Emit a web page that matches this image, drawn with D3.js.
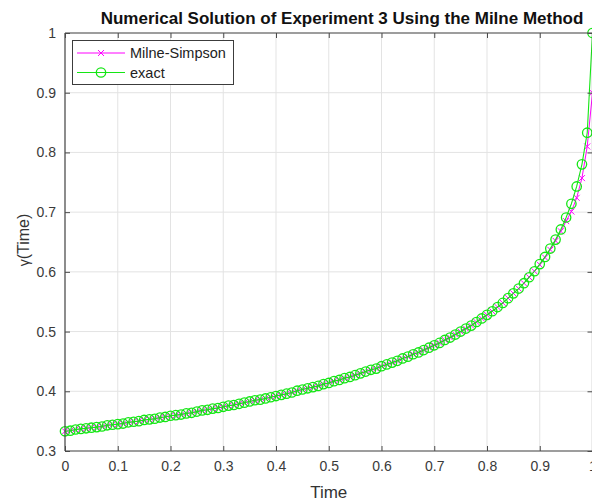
<!DOCTYPE html>
<html>
<head>
<meta charset="utf-8">
<script src="https://cdn.jsdelivr.net/npm/d3@7"></script>
<style>
  html, body { margin: 0; padding: 0; background: #fff; }
  svg { display: block; }
  text { font-family: "Liberation Sans", Arial, Helvetica, sans-serif; }
</style>
</head>
<body>
<svg id="chart" width="592" height="504"></svg>
<script>
// Time grid (step h = 0.01)
const time = [
  0.00, 0.01, 0.02, 0.03, 0.04, 0.05, 0.06, 0.07, 0.08, 0.09,
  0.10, 0.11, 0.12, 0.13, 0.14, 0.15, 0.16, 0.17, 0.18, 0.19,
  0.20, 0.21, 0.22, 0.23, 0.24, 0.25, 0.26, 0.27, 0.28, 0.29,
  0.30, 0.31, 0.32, 0.33, 0.34, 0.35, 0.36, 0.37, 0.38, 0.39,
  0.40, 0.41, 0.42, 0.43, 0.44, 0.45, 0.46, 0.47, 0.48, 0.49,
  0.50, 0.51, 0.52, 0.53, 0.54, 0.55, 0.56, 0.57, 0.58, 0.59,
  0.60, 0.61, 0.62, 0.63, 0.64, 0.65, 0.66, 0.67, 0.68, 0.69,
  0.70, 0.71, 0.72, 0.73, 0.74, 0.75, 0.76, 0.77, 0.78, 0.79,
  0.80, 0.81, 0.82, 0.83, 0.84, 0.85, 0.86, 0.87, 0.88, 0.89,
  0.90, 0.91, 0.92, 0.93, 0.94, 0.95, 0.96, 0.97, 0.98, 0.99,
  1.00
];

// Exact solution values
const exact = [
  0.333, 0.334, 0.336, 0.337, 0.338, 0.339, 0.340, 0.341, 0.343, 0.344,
  0.345, 0.346, 0.348, 0.349, 0.350, 0.352, 0.353, 0.354, 0.356, 0.357,
  0.359, 0.360, 0.361, 0.363, 0.364, 0.366, 0.368, 0.369, 0.371, 0.372,
  0.374, 0.376, 0.377, 0.379, 0.381, 0.383, 0.385, 0.386, 0.388, 0.390,
  0.392, 0.394, 0.396, 0.398, 0.401, 0.403, 0.405, 0.407, 0.409, 0.412,
  0.414, 0.417, 0.419, 0.422, 0.424, 0.427, 0.430, 0.433, 0.436, 0.438,
  0.442, 0.445, 0.448, 0.451, 0.455, 0.458, 0.462, 0.465, 0.469, 0.473,
  0.477, 0.481, 0.486, 0.490, 0.495, 0.500, 0.505, 0.510, 0.516, 0.522,
  0.528, 0.534, 0.541, 0.548, 0.556, 0.564, 0.572, 0.581, 0.591, 0.601,
  0.613, 0.625, 0.639, 0.654, 0.671, 0.691, 0.714, 0.743, 0.780, 0.833,
  1.000
];

// Milne-Simpson predictor-corrector values
const milne = [
  0.333, 0.334, 0.336, 0.337, 0.338, 0.339, 0.340, 0.341, 0.343, 0.344,
  0.345, 0.346, 0.348, 0.349, 0.350, 0.352, 0.353, 0.354, 0.356, 0.357,
  0.359, 0.360, 0.361, 0.363, 0.364, 0.366, 0.368, 0.369, 0.371, 0.372,
  0.374, 0.376, 0.377, 0.379, 0.381, 0.383, 0.385, 0.386, 0.388, 0.390,
  0.392, 0.394, 0.396, 0.398, 0.401, 0.403, 0.405, 0.407, 0.409, 0.412,
  0.414, 0.417, 0.419, 0.422, 0.424, 0.427, 0.430, 0.433, 0.436, 0.438,
  0.442, 0.445, 0.448, 0.451, 0.455, 0.458, 0.462, 0.465, 0.469, 0.473,
  0.477, 0.481, 0.486, 0.490, 0.495, 0.500, 0.505, 0.510, 0.516, 0.522,
  0.528, 0.534, 0.541, 0.548, 0.556, 0.564, 0.572, 0.581, 0.591, 0.601,
  0.612, 0.624, 0.637, 0.652, 0.668, 0.685, 0.701, 0.724, 0.757, 0.810,
  0.900
];

const xTicks = [0, 0.1, 0.2, 0.3, 0.4, 0.5, 0.6, 0.7, 0.8, 0.9, 1];
const xTickLabels = ["0", "0.1", "0.2", "0.3", "0.4", "0.5", "0.6", "0.7", "0.8", "0.9", "1"];
const yTicks = [0.3, 0.4, 0.5, 0.6, 0.7, 0.8, 0.9, 1];
const yTickLabels = ["0.3", "0.4", "0.5", "0.6", "0.7", "0.8", "0.9", "1"];

const seriesNames = ["Milne-Simpson", "exact"];
const titleText = "Numerical Solution of Experiment 3 Using the Milne Method";

const svg = d3.select("#chart");
const pLeft = 65, pRight = 592.5, pTop = 33, pBottom = 451;

const x = d3.scaleLinear().domain([0, 1]).range([pLeft, pRight]);
const y = d3.scaleLinear().domain([0.3, 1]).range([pBottom, pTop]);

const axisColor = "#4a4a4a";
const gridColor = "#e3e3e3";
const magenta = "#ff00ff";
const green = "#14e614";

// Grid
const grid = svg.append("g");
grid.selectAll("line.gx").data(xTicks).join("line")
  .attr("x1", d => x(d)).attr("x2", d => x(d))
  .attr("y1", pTop).attr("y2", pBottom)
  .attr("stroke", gridColor).attr("stroke-width", 1);
grid.selectAll("line.gy").data(yTicks).join("line")
  .attr("x1", pLeft).attr("x2", pRight)
  .attr("y1", d => y(d)).attr("y2", d => y(d))
  .attr("stroke", gridColor).attr("stroke-width", 1);

// Clip region for the data
svg.append("clipPath").attr("id", "plotclip")
  .append("rect").attr("x", pLeft - 6).attr("y", pTop - 6)
  .attr("width", pRight - pLeft + 12).attr("height", pBottom - pTop + 12);

const plot = svg.append("g").attr("clip-path", "url(#plotclip)");
const line = d3.line().x(d => x(d[0])).y(d => y(d[1]));

const milnePts = time.map((t, i) => [t, milne[i]]);
const exactPts = time.map((t, i) => [t, exact[i]]);

// Milne-Simpson: magenta line with x markers
plot.append("path").datum(milnePts)
  .attr("d", line).attr("fill", "none")
  .attr("stroke", magenta).attr("stroke-width", 1);
const xm = 3;
plot.append("g").selectAll("path").data(milnePts).join("path")
  .attr("d", d => {
    const cx = x(d[0]), cy = y(d[1]);
    return `M${cx - xm},${cy - xm}L${cx + xm},${cy + xm}M${cx - xm},${cy + xm}L${cx + xm},${cy - xm}`;
  })
  .attr("stroke", magenta).attr("stroke-width", 1).attr("fill", "none");

// Exact: green line with open circles
plot.append("path").datum(exactPts)
  .attr("d", line).attr("fill", "none")
  .attr("stroke", green).attr("stroke-width", 1.1);
plot.append("g").selectAll("circle").data(exactPts).join("circle")
  .attr("cx", d => x(d[0])).attr("cy", d => y(d[1]))
  .attr("r", 4.7)
  .attr("fill", "none").attr("stroke", green).attr("stroke-width", 1.3);

// Axes (box with inward ticks)
const xAxisB = d3.axisBottom(x).tickValues(xTicks).tickSize(-5)
  .tickFormat((d, i) => xTickLabels[i]).tickPadding(10);
const xAxisT = d3.axisTop(x).tickValues(xTicks).tickSize(-5).tickFormat("");
const yAxisL = d3.axisLeft(y).tickValues(yTicks).tickSize(-5)
  .tickFormat((d, i) => yTickLabels[i]).tickPadding(9);
const yAxisR = d3.axisRight(y).tickValues(yTicks).tickSize(-5).tickFormat("");

function styleAxis(g) {
  g.select(".domain").attr("stroke", axisColor).attr("stroke-width", 1.2);
  g.selectAll(".tick line").attr("stroke", axisColor);
  g.selectAll(".tick text").attr("fill", "#3a3a3a")
    .style("font-size", "14px")
    .style("font-family", '"Liberation Sans", Arial, sans-serif');
}

svg.append("g").attr("transform", `translate(0,${pBottom})`)
  .call(xAxisB).call(styleAxis).call(g => g.select(".domain").attr("d", `M${pLeft},0H${pRight}`));
svg.append("g").attr("transform", `translate(0,${pTop})`)
  .call(xAxisT).call(styleAxis).call(g => g.select(".domain").attr("d", `M${pLeft},0H${pRight}`));
svg.append("g").attr("transform", `translate(${pLeft},0)`)
  .call(yAxisL).call(styleAxis).call(g => g.select(".domain").attr("d", `M0,${pTop}V${pBottom}`));
svg.append("g").attr("transform", `translate(${pRight},0)`)
  .call(yAxisR).call(styleAxis).call(g => g.select(".domain").attr("d", `M0,${pTop}V${pBottom}`));

// Title
svg.append("text")
  .attr("x", 342).attr("y", 24)
  .attr("text-anchor", "middle")
  .attr("font-weight", "bold")
  .attr("font-size", "17px")
  .attr("fill", "#111")
  .text(titleText);

// Axis labels
svg.append("text")
  .attr("x", (pLeft + pRight) / 2).attr("y", 498)
  .attr("text-anchor", "middle")
  .attr("font-size", "17px")
  .attr("fill", "#333")
  .text("Time");

const yl = svg.append("text")
  .attr("transform", `translate(29,${(pTop + pBottom) / 2 - 2}) rotate(-90)`)
  .attr("text-anchor", "middle")
  .attr("font-size", "16px")
  .attr("fill", "#333");
yl.append("tspan").attr("font-size", "14px").text("γ");
yl.append("tspan").text("(Time)");

// Legend
const leg = svg.append("g");
leg.append("rect")
  .attr("x", 72.5).attr("y", 40.5).attr("width", 161).attr("height", 44)
  .attr("fill", "#fff").attr("stroke", "#3c3c3c").attr("stroke-width", 1);
const legRows = [
  { name: seriesNames[0], color: magenta, marker: "x", yy: 53 },
  { name: seriesNames[1], color: green, marker: "o", yy: 72.5 }
];
legRows.forEach(r => {
  leg.append("line")
    .attr("x1", 77).attr("x2", 125).attr("y1", r.yy).attr("y2", r.yy)
    .attr("stroke", r.color).attr("stroke-width", 1);
  if (r.marker === "x") {
    const cx = 101, cy = r.yy;
    leg.append("path")
      .attr("d", `M${cx - xm},${cy - xm}L${cx + xm},${cy + xm}M${cx - xm},${cy + xm}L${cx + xm},${cy - xm}`)
      .attr("stroke", r.color).attr("stroke-width", 1);
  } else {
    leg.append("circle").attr("cx", 101).attr("cy", r.yy).attr("r", 4.7)
      .attr("fill", "none").attr("stroke", r.color).attr("stroke-width", 1.3);
  }
  leg.append("text")
    .attr("x", 130).attr("y", r.yy + 5)
    .attr("font-size", "14.5px").attr("fill", "#222")
    .text(r.name);
});
</script>
</body>
</html>
